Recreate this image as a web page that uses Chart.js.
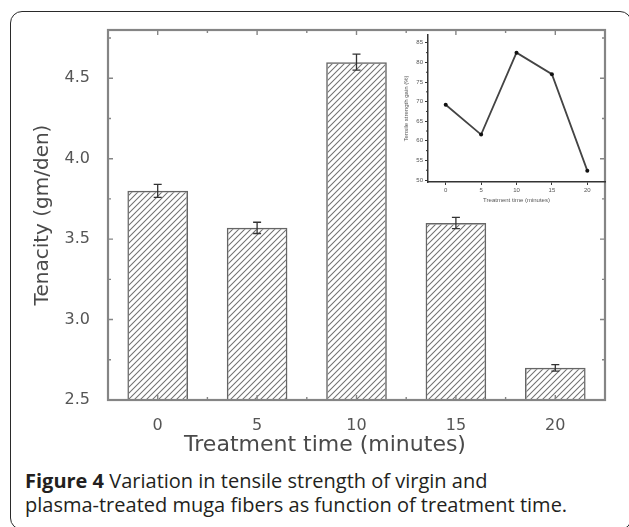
<!DOCTYPE html>
<html>
<head>
<meta charset="utf-8">
<script src="https://cdn.jsdelivr.net/npm/chart.js@4.4.1/dist/chart.umd.min.js"></script>
<style>
  body { margin: 0; background: #fff; width: 629px; height: 527px; overflow: hidden; position: relative; }
  #frame { position: absolute; left: 10px; top: 11px; width: 622px; height: 519px; border: 1.5px solid #2a2a2a; border-radius: 12px; box-sizing: border-box; }
  #mainBox { position: absolute; left: 0; top: 0; width: 629px; height: 460px; }
  #insetBox { position: absolute; left: 395px; top: 20px; width: 215px; height: 190px; }
  #caption { position: absolute; left: 25px; top: 469px; font-family: 'Open Sans', sans-serif; font-size: 20px; line-height: 24px; color: #231f20; white-space: nowrap; }
</style>
</head>
<body>
<div id="frame"></div>
<div id="mainBox"><canvas id="mainChart" width="629" height="460"></canvas></div>
<div id="insetBox"><canvas id="insetChart" width="215" height="190"></canvas></div>
<div id="caption"><b>Figure 4</b> Variation in tensile strength of virgin and<br>plasma-treated muga fibers as function of treatment time.</div>
<script>
// main bar chart data
const categories = ['0', '5', '10', '15', '20'];
const tenacity = [3.80, 3.57, 4.60, 3.60, 2.70];
const tenacityErr = [0.04, 0.035, 0.05, 0.035, 0.02];
const yTicks = [2.5, 3.0, 3.5, 4.0, 4.5];

// inset line chart data
const insetTime = [0, 5, 10, 15, 20];
const insetValues = [69.2, 61.6, 82.5, 77.0, 52.4];
const insetYTicks = [50, 55, 60, 65, 70, 75, 80, 85];

function hatch() {
  const c = document.createElement('canvas');
  c.width = 6; c.height = 6;
  const g = c.getContext('2d');
  g.strokeStyle = '#727272';
  g.lineWidth = 1.05;
  g.beginPath();
  g.moveTo(0, 6); g.lineTo(6, 0);
  g.moveTo(-1, 1); g.lineTo(1, -1);
  g.moveTo(5, 7); g.lineTo(7, 5);
  g.stroke();
  return g.createPattern(c, 'repeat');
}

// error bars + axis box with inward ticks
const mainDecor = {
  id: 'mainDecor',
  afterDatasetsDraw(chart) {
    const { ctx, chartArea: a, scales: { x, y } } = chart;
    ctx.save();
    ctx.strokeStyle = '#333';
    ctx.lineWidth = 1.3;
    tenacity.forEach((v, i) => {
      const px = x.getPixelForValue(i);
      const top = y.getPixelForValue(v + tenacityErr[i]);
      const bot = y.getPixelForValue(v - tenacityErr[i]);
      ctx.beginPath();
      ctx.moveTo(px, top); ctx.lineTo(px, bot);
      ctx.moveTo(px - 4, top); ctx.lineTo(px + 4, top);
      ctx.moveTo(px - 4, bot); ctx.lineTo(px + 4, bot);
      ctx.stroke();
    });

    ctx.strokeStyle = '#858585';
    ctx.lineWidth = 2.2;
    ctx.strokeRect(a.left, a.top, a.right - a.left, a.bottom - a.top);

    ctx.lineWidth = 1.4;
    ctx.beginPath();
    yTicks.forEach(v => {
      const py = y.getPixelForValue(v);
      ctx.moveTo(a.left, py); ctx.lineTo(a.left + 5, py);
      ctx.moveTo(a.right, py); ctx.lineTo(a.right - 5, py);
      const pm = y.getPixelForValue(v + 0.25);
      if (pm > a.top) {
        ctx.moveTo(a.left, pm); ctx.lineTo(a.left + 3, pm);
        ctx.moveTo(a.right, pm); ctx.lineTo(a.right - 3, pm);
      }
    });
    categories.forEach((c, i) => {
      const px = x.getPixelForValue(i);
      ctx.moveTo(px, a.top); ctx.lineTo(px, a.top + 5);
      ctx.moveTo(px, a.bottom); ctx.lineTo(px, a.bottom - 5);
      if (i < categories.length - 1) {
        const pm = (px + x.getPixelForValue(i + 1)) / 2;
        ctx.moveTo(pm, a.top); ctx.lineTo(pm, a.top + 3);
        ctx.moveTo(pm, a.bottom); ctx.lineTo(pm, a.bottom - 3);
      }
    });
    ctx.stroke();
    ctx.restore();
  }
};

new Chart(document.getElementById('mainChart'), {
  type: 'bar',
  data: {
    labels: categories,
    datasets: [{
      data: tenacity,
      backgroundColor: hatch(),
      borderColor: '#666',
      borderWidth: 1.5,
      borderSkipped: false,
      barPercentage: 0.61,
      categoryPercentage: 1
    }]
  },
  options: {
    responsive: false,
    animation: false,
    devicePixelRatio: 1,
    layout: { padding: { top: 30, right: 24, left: 0, bottom: 0 } },
    plugins: { legend: { display: false }, tooltip: { enabled: false } },
    scales: {
      x: {
        offset: true,
        grid: { display: false },
        border: { display: false },
        ticks: { color: '#555', padding: 8, font: { family: 'DejaVu Sans', size: 16 } },
        title: {
          display: true,
          // trailing spaces pull the centred title left, as in the original
          text: 'Treatment time (minutes)\u00a0\u00a0\u00a0\u00a0\u00a0\u00a0\u00a0\u00a0\u00a0',
          color: '#4a4a4a',
          padding: { top: 0, bottom: 2 },
          font: { family: 'DejaVu Sans', size: 22 }
        },
        afterFit(s) { s.height = 60; }
      },
      y: {
        min: 2.5,
        max: 4.8,
        grid: { display: false },
        border: { display: false },
        afterBuildTicks(s) { s.ticks = yTicks.map(v => ({ value: v })); },
        ticks: {
          color: '#555',
          padding: 10,
          font: { family: 'DejaVu Sans', size: 16 },
          callback: v => Number(v).toFixed(1)
        },
        title: {
          display: true,
          text: 'Tenacity (gm/den)',
          color: '#4a4a4a',
          padding: { top: 31, bottom: 0 },
          font: { family: 'DejaVu Sans', size: 20 }
        },
        afterFit(s) { s.width = 108; }
      }
    }
  },
  plugins: [mainDecor]
});

// minor ticks on the inset y axis
const insetMinor = {
  id: 'insetMinor',
  afterDraw(chart) {
    const { ctx, chartArea: a, scales: { y } } = chart;
    ctx.save();
    ctx.strokeStyle = '#333';
    ctx.lineWidth = 1;
    ctx.beginPath();
    insetYTicks.forEach(v => {
      const py = y.getPixelForValue(v + 2.5);
      if (py > a.top) { ctx.moveTo(a.left, py); ctx.lineTo(a.left - 2, py); }
    });
    ctx.stroke();
    ctx.restore();
  }
};

new Chart(document.getElementById('insetChart'), {
  type: 'line',
  data: {
    datasets: [{
      data: insetTime.map((t, i) => ({ x: t, y: insetValues[i] })),
      borderColor: '#444',
      borderWidth: 1.8,
      pointRadius: 2,
      pointBackgroundColor: '#111',
      pointBorderWidth: 0,
      tension: 0
    }]
  },
  options: {
    responsive: false,
    animation: false,
    devicePixelRatio: 1,
    layout: { padding: { top: 15, right: 5, left: 0, bottom: 0 } },
    plugins: { legend: { display: false }, tooltip: { enabled: false } },
    scales: {
      x: {
        type: 'linear',
        min: -2.5,
        max: 22.5,
        afterBuildTicks(s) { s.ticks = insetTime.map(v => ({ value: v })); },
        grid: { display: true, drawOnChartArea: false, drawTicks: true, tickLength: 3, color: '#333' },
        border: { display: true, color: '#333', width: 1.5 },
        ticks: { color: '#555', padding: 2, font: { family: 'Liberation Sans', size: 6 } },
        title: {
          display: true,
          text: 'Treatment time (minutes)',
          color: '#555',
          padding: { top: 0, bottom: 6 },
          font: { family: 'Liberation Sans', size: 6 }
        },
        afterFit(s) { s.height = 28; }
      },
      y: {
        min: 49.5,
        max: 87,
        afterBuildTicks(s) { s.ticks = insetYTicks.map(v => ({ value: v })); },
        grid: { display: true, drawOnChartArea: false, drawTicks: true, tickLength: 3, color: '#333' },
        border: { display: true, color: '#333', width: 1.5 },
        ticks: { color: '#555', padding: 2, font: { family: 'Liberation Sans', size: 6 } },
        title: {
          display: true,
          text: 'Tensile strength gain (%)',
          color: '#555',
          padding: { top: 8, bottom: 0 },
          font: { family: 'Liberation Sans', size: 6 }
        },
        afterFit(s) { s.width = 33; }
      }
    }
  },
  plugins: [insetMinor]
});
</script>
</body>
</html>
